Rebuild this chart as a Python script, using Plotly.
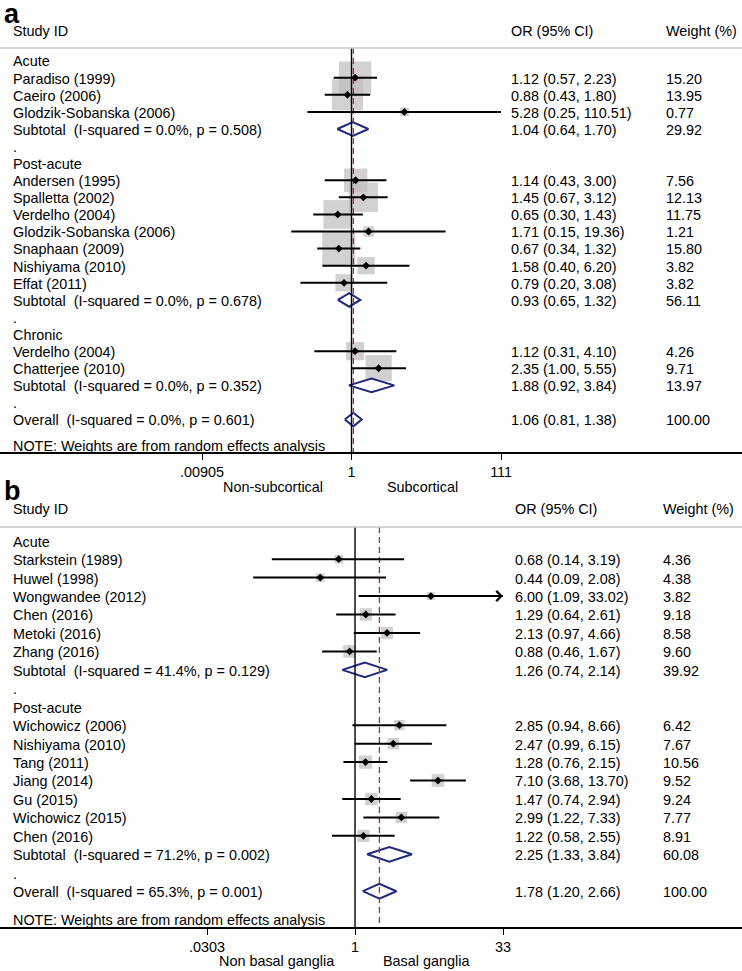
import math

import plotly.graph_objects as go

FONT = "Liberation Sans, Arial, Helvetica, sans-serif"
W, H = 742, 971
FS = 14.4

# ---- panel a: subcortical vs non-subcortical ----
a_labels = [
    "Acute", "Paradiso (1999)", "Caeiro (2006)", "Glodzik-Sobanska (2006)",
    "Subtotal\u00a0 (I-squared = 0.0%, p = 0.508)", ".",
    "Post-acute", "Andersen (1995)", "Spalletta (2002)", "Verdelho (2004)",
    "Glodzik-Sobanska (2006)", "Snaphaan (2009)", "Nishiyama (2010)", "Effat (2011)",
    "Subtotal\u00a0 (I-squared = 0.0%, p = 0.678)", ".",
    "Chronic", "Verdelho (2004)", "Chatterjee (2010)",
    "Subtotal\u00a0 (I-squared = 0.0%, p = 0.352)", ".",
    "Overall\u00a0 (I-squared = 0.0%, p = 0.601)",
]
a_kind = ["head", "study", "study", "study", "pool", "gap",
          "head", "study", "study", "study", "study", "study", "study", "study", "pool", "gap",
          "head", "study", "study", "pool", "gap", "pool"]
a_est = [None, 1.12, 0.88, 5.28, 1.04, None,
         None, 1.14, 1.45, 0.65, 1.71, 0.67, 1.58, 0.79, 0.93, None,
         None, 1.12, 2.35, 1.88, None, 1.06]
a_lo = [None, 0.57, 0.43, 0.25, 0.64, None,
        None, 0.43, 0.67, 0.30, 0.15, 0.34, 0.40, 0.20, 0.65, None,
        None, 0.31, 1.00, 0.92, None, 0.81]
a_hi = [None, 2.23, 1.80, 110.51, 1.70, None,
        None, 3.00, 3.12, 1.43, 19.36, 1.32, 6.20, 3.08, 1.32, None,
        None, 4.10, 5.55, 3.84, None, 1.38]
a_wt = [None, 15.20, 13.95, 0.77, 29.92, None,
        None, 7.56, 12.13, 11.75, 1.21, 15.80, 3.82, 3.82, 56.11, None,
        None, 4.26, 9.71, 13.97, None, 100.00]
a_ticks = [0.00905, 1, 111]
a_ticktext = [".00905", "1", "111"]
a_sides = ["Non-subcortical", "Subcortical"]

# ---- panel b: basal ganglia vs non basal ganglia ----
b_labels = [
    "Acute", "Starkstein (1989)", "Huwel (1998)", "Wongwandee (2012)", "Chen (2016)",
    "Metoki (2016)", "Zhang (2016)",
    "Subtotal\u00a0 (I-squared = 41.4%, p = 0.129)", ".",
    "Post-acute", "Wichowicz (2006)", "Nishiyama (2010)", "Tang (2011)", "Jiang (2014)",
    "Gu (2015)", "Wichowicz (2015)", "Chen (2016)",
    "Subtotal\u00a0 (I-squared = 71.2%, p = 0.002)", ".",
    "Overall\u00a0 (I-squared = 65.3%, p = 0.001)",
]
b_kind = ["head", "study", "study", "study", "study", "study", "study", "pool", "gap",
          "head", "study", "study", "study", "study", "study", "study", "study", "pool", "gap",
          "pool"]
b_est = [None, 0.68, 0.44, 6.00, 1.29, 2.13, 0.88, 1.26, None,
         None, 2.85, 2.47, 1.28, 7.10, 1.47, 2.99, 1.22, 2.25, None, 1.78]
b_lo = [None, 0.14, 0.09, 1.09, 0.64, 0.97, 0.46, 0.74, None,
        None, 0.94, 0.99, 0.76, 3.68, 0.74, 1.22, 0.58, 1.33, None, 1.20]
b_hi = [None, 3.19, 2.08, 33.02, 2.61, 4.66, 1.67, 2.14, None,
        None, 8.66, 6.15, 2.15, 13.70, 2.94, 7.33, 2.55, 3.84, None, 2.66]
b_wt = [None, 4.36, 4.38, 3.82, 9.18, 8.58, 9.60, 39.92, None,
        None, 6.42, 7.67, 10.56, 9.52, 9.24, 7.77, 8.91, 60.08, None, 100.00]
b_ticks = [0.0303, 1, 33]
b_ticktext = [".0303", "1", "33"]
b_sides = ["Non basal ganglia", "Basal ganglia"]

GREY_BOX = "#bdbdbd"
NAVY = "#1f2a7a"
MAROON = "#9a3040"


def px(x):
    return x / W


def py(y):
    return 1 - y / H


def add_panel(fig, labels, kind, est, lo, hi, wt, ticks, ticktext, sides, n, cfg):
    xa, ya = ("x", "y") if n == 1 else ("x%d" % n, "y%d" % n)
    top, bottom = cfg["yrange"]
    grey_y = -0.74
    xmax = max(ticks)
    xmin = min(ticks)

    studies = [i for i, k in enumerate(kind) if k == "study"]
    pools = [i for i, k in enumerate(kind) if k == "pool"]

    # weight boxes
    fig.add_trace(go.Scatter(
        x=[est[i] for i in studies], y=studies, mode="markers",
        marker=dict(symbol="square", color=GREY_BOX,
                    size=[cfg["box_pad"] + cfg["box_k"] * math.sqrt(wt[i]) for i in studies],
                    line=dict(width=0)),
        xaxis=xa, yaxis=ya, hoverinfo="skip",
    ))

    # pooled diamonds
    dx, dy = [], []
    for i in pools:
        h = 0.4
        dx += [lo[i], est[i], hi[i], est[i], lo[i], None]
        dy += [i, i - h, i, i + h, i, None]
    fig.add_trace(go.Scatter(
        x=dx, y=dy, mode="lines", fill="toself", fillcolor="white",
        line=dict(color=NAVY, width=2), xaxis=xa, yaxis=ya, hoverinfo="skip",
    ))

    # null line and overall estimate line
    overall = est[pools[-1]]
    fig.add_trace(go.Scatter(
        x=[1, 1], y=[grey_y, bottom], mode="lines",
        line=dict(color="black", width=1.4), xaxis=xa, yaxis=ya, hoverinfo="skip",
    ))
    fig.add_trace(go.Scatter(
        x=[overall, overall], y=[grey_y, bottom], mode="lines",
        line=dict(color=MAROON, width=1.3, dash="6px,4px"),
        xaxis=xa, yaxis=ya, hoverinfo="skip",
    ))

    # confidence intervals
    cx, cy = [], []
    for i in studies:
        cx += [max(lo[i], xmin), min(hi[i], xmax), None]
        cy += [i, i, None]
        if hi[i] > xmax:
            fig.add_annotation(
                x=math.log10(xmax), y=i, ax=math.log10(lo[i]), ay=i,
                xref=xa, yref=ya, axref=xa, ayref=ya, text="",
                showarrow=True, arrowhead=4, arrowsize=1, arrowwidth=2,
                arrowcolor="black", standoff=0,
            )
    fig.add_trace(go.Scatter(
        x=cx, y=cy, mode="lines", line=dict(color="black", width=2),
        xaxis=xa, yaxis=ya, hoverinfo="skip",
    ))
    fig.add_trace(go.Scatter(
        x=[est[i] for i in studies], y=studies, mode="markers",
        marker=dict(symbol="diamond", color="black", size=6),
        xaxis=xa, yaxis=ya, hoverinfo="skip",
    ))

    # header rule
    fig.add_shape(type="line", xref="paper", yref=ya, x0=0, x1=1, y0=grey_y, y1=grey_y,
                  line=dict(color="#c8c8c8", width=1.5))

    txt = dict(xref="paper", yref=ya, showarrow=False, xanchor="left", yanchor="middle",
               font=dict(family=FONT, size=FS, color="black"))
    hy = -1.73
    fig.add_annotation(x=px(11), y=hy, text="Study ID", **txt)
    fig.add_annotation(x=px(cfg["or_x"]), y=hy, text="OR (95% CI)", **txt)
    fig.add_annotation(x=px(cfg["wt_x"]), y=hy, text="Weight (%)", **txt)

    for i, lab in enumerate(labels):
        yy = i + 0.05
        fig.add_annotation(x=px(11), y=yy, text=lab, **txt)
        if est[i] is not None:
            fig.add_annotation(x=px(cfg["or_x"]), y=yy,
                               text="%.2f (%.2f, %.2f)" % (est[i], lo[i], hi[i]), **txt)
            fig.add_annotation(x=px(cfg["wt_x"]), y=yy, text="%.2f" % wt[i], **txt)

    fig.add_annotation(x=px(11), y=len(labels) - 1 + 1.56,
                       text="NOTE: Weights are from random effects analysis", **txt)

    side = dict(xref="paper", yref="paper", showarrow=False, xanchor="center",
                yanchor="middle", font=dict(family=FONT, size=FS, color="black"))
    fig.add_annotation(x=px(cfg["side_x"][0]), y=py(cfg["side_y"]), text=sides[0], **side)
    fig.add_annotation(x=px(cfg["side_x"][1]), y=py(cfg["side_y"]), text=sides[1], **side)

    fig.add_annotation(x=px(2), y=py(cfg["letter_y"]), xref="paper", yref="paper",
                       text="<b>%s</b>" % cfg["letter"], showarrow=False,
                       xanchor="left", yanchor="top",
                       font=dict(family=FONT, size=27, color="black"))

    axis_x = dict(
        type="log", range=cfg["xrange"], domain=[0, 1], anchor=ya,
        tickvals=ticks, ticktext=ticktext, ticks="outside", ticklen=6, tickwidth=1.4,
        tickcolor="black", showline=True, linecolor="black", linewidth=1.6,
        showgrid=False, zeroline=False,
        tickfont=dict(family=FONT, size=FS, color="black"),
    )
    axis_y = dict(range=[bottom, top], domain=cfg["ydomain"], anchor=xa, visible=False,
                  showgrid=False, zeroline=False)
    xname = "xaxis" if n == 1 else "xaxis%d" % n
    yname = "yaxis" if n == 1 else "yaxis%d" % n
    fig.update_layout(**{xname: axis_x, yname: axis_y})


fig = go.Figure()

add_panel(fig, a_labels, a_kind, a_est, a_lo, a_hi, a_wt, a_ticks, a_ticktext, a_sides, 1, dict(
    yrange=(-2.376, 22.90), ydomain=[py(452), py(20)],
    xrange=[-4.806, 5.339], box_k=7.8, box_pad=2.0,
    or_x=509, wt_x=664, side_x=(273, 422), side_y=487, letter="a", letter_y=-3,
))
add_panel(fig, b_labels, b_kind, b_est, b_lo, b_hi, b_wt, b_ticks, b_ticktext, b_sides, 2, dict(
    yrange=(-2.37, 20.94), ydomain=[py(927), py(497)],
    xrange=[-3.643, 3.971], box_k=4.1, box_pad=0.0,
    or_x=513, wt_x=661, side_x=(276, 426), side_y=961, letter="b", letter_y=474,
))

fig.update_layout(
    width=W, height=H, margin=dict(l=0, r=0, t=0, b=0),
    paper_bgcolor="white", plot_bgcolor="white", showlegend=False,
    font=dict(family=FONT, size=FS, color="black"),
)

fig.write_html("out.html", config={"displayModeBar": False},
               post_script="document.body.style.margin='0';")
